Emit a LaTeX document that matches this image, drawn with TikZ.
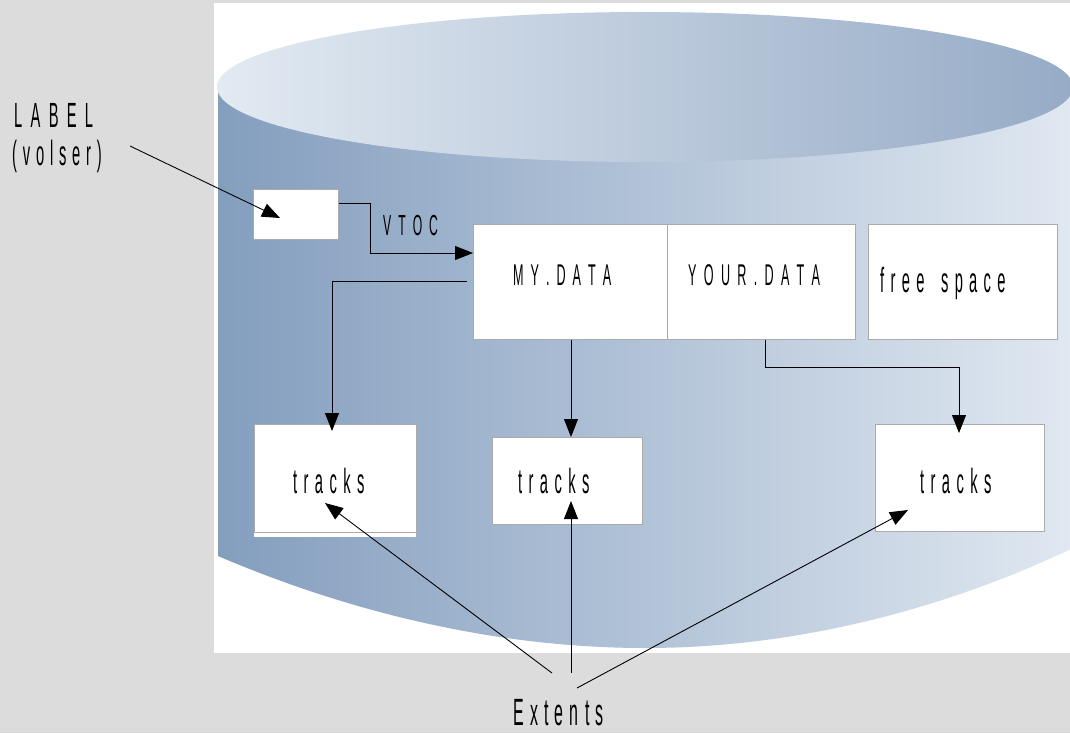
\documentclass[tikz,border=0pt]{standalone}
\usepackage{fontspec}
\newfontfamily\cf[FakeStretch=0.42]{Liberation Sans}
\usetikzlibrary{arrows.meta,calc}
\definecolor{bggray}{RGB}{220,220,220}
\definecolor{boxline}{RGB}{170,170,170}
\definecolor{bodyL}{RGB}{132,158,190}
\definecolor{bodyM}{RGB}{185,201,219}
\definecolor{bodyR}{RGB}{224,232,241}
\definecolor{topL}{RGB}{226,234,242}
\definecolor{topM}{RGB}{200,214,228}
\definecolor{topR}{RGB}{150,171,198}
\newdimen\lspdim
\def\sptextend{\sptextend}
\def\sptext#1{\sptextB#1\sptextend}
\def\sptextB#1{#1\sptextA}
\def\sptextA#1{\ifx#1\sptextend\else\hskip\lspdim\relax #1\expandafter\sptextA\fi}
\newcommand\stxt[3]{\fontsize{#1}{#1}\selectfont\lspdim=#2pt\relax\sptext{#3}}
\tikzset{
  box/.style={draw=boxline, fill=white, line width=0.9pt, inner sep=0pt, anchor=north west},
  txt/.style={inner sep=0pt, anchor=base west, font=\cf, text=black},
  arr/.style={-{Triangle[length=18pt,width=14pt]}, line width=0.9pt, black},
  ln/.style={line width=0.9pt, black}
}
\begin{document}
\begin{tikzpicture}[x=1pt,y=-1pt]
\useasboundingbox (0,0) rectangle (1070,733);
\fill[bggray] (0,0) rectangle (1070,733);
\fill[white] (214,3) rectangle (1070,653);
% cylinder
\begin{scope}
\clip (214,3) rectangle (1070,653);
\shade[left color=bodyL, middle color=bodyM, right color=bodyR]
  (218,87) -- (218,556) .. controls (330,604) and (480,648) .. (645,648)
  .. controls (810,648) and (960,602) .. (1073,548) -- (1073,87) -- cycle;
\shade[left color=topL, middle color=topM, right color=topR]
  (645,87) ellipse [x radius=428, y radius=75];
\end{scope}
% boxes
\node[box, minimum width=85pt, minimum height=50pt] (lbox) at (253,189) {};
\node[box, minimum width=194pt, minimum height=115pt] (mydata) at (473,224) {};
\node[box, minimum width=188pt, minimum height=115pt] (yourdata) at (667,224) {};
\node[box, minimum width=189pt, minimum height=115pt] (free) at (868,224) {};
\fill[white] (254,532) rectangle (416,537);
\node[box, minimum width=162pt, minimum height=108pt] (t1) at (254,424) {};
\node[box, minimum width=150pt, minimum height=87pt] (t2) at (492,437) {};
\node[box, minimum width=169pt, minimum height=107pt] (t3) at (875,424) {};
% texts
\node[txt] (label) at (14,128) {\stxt{35}{8.3}{LABEL}};
\node[txt] (volser) at (12,165) {\stxt{35}{5.8}{(volser)}};
\node[txt] (vtoc) at (383,235) {\stxt{29}{7}{VTOC}};
\node[txt] (mytxt) at (513,285) {\stxt{30}{7}{MY.DATA}};
\node[txt] (yourtxt) at (688,285) {\stxt{30}{7.3}{YOUR.DATA}};
\node[txt] (freetxt) at (880,292) {\stxt{35}{6.3}{free~space}};
\node[txt] (tr1) at (293,493) {\stxt{35}{6.4}{tracks}};
\node[txt] (tr2) at (518,493) {\stxt{35}{6.4}{tracks}};
\node[txt] (tr3) at (920,493) {\stxt{35}{6.4}{tracks}};
\node[txt] (extents) at (513,725) {\stxt{38}{6.2}{Extents}};
% coordinates
\coordinate (labstart) at (130,146);
\coordinate (labtip) at (280,218);
\coordinate (m1) at (467,281);
\coordinate (e1) at (552,673);
\coordinate (e2) at (571,673);
\coordinate (e3) at (577,688);
\coordinate (tip1) at (325,503);
\coordinate (tip2) at (571,501);
\coordinate (tip3) at (908,510);
% connectors
\draw[arr] (labstart) -- (labtip);
\draw[arr] (lbox.east |- 0,203) -| (370,253) -- (mydata.west |- 0,253);
\draw[arr] (m1) -| (332,431);
\draw[arr] (mydata.south -| 571,0) -- (571,437);
\draw[arr] (yourdata.south -| 765,0) -- (765,367) -| (959,433);
\draw[arr] (e1) -- (tip1);
\draw[arr] (e2) -- (tip2);
\draw[arr] (e3) -- (tip3);
\end{tikzpicture}
\end{document}
